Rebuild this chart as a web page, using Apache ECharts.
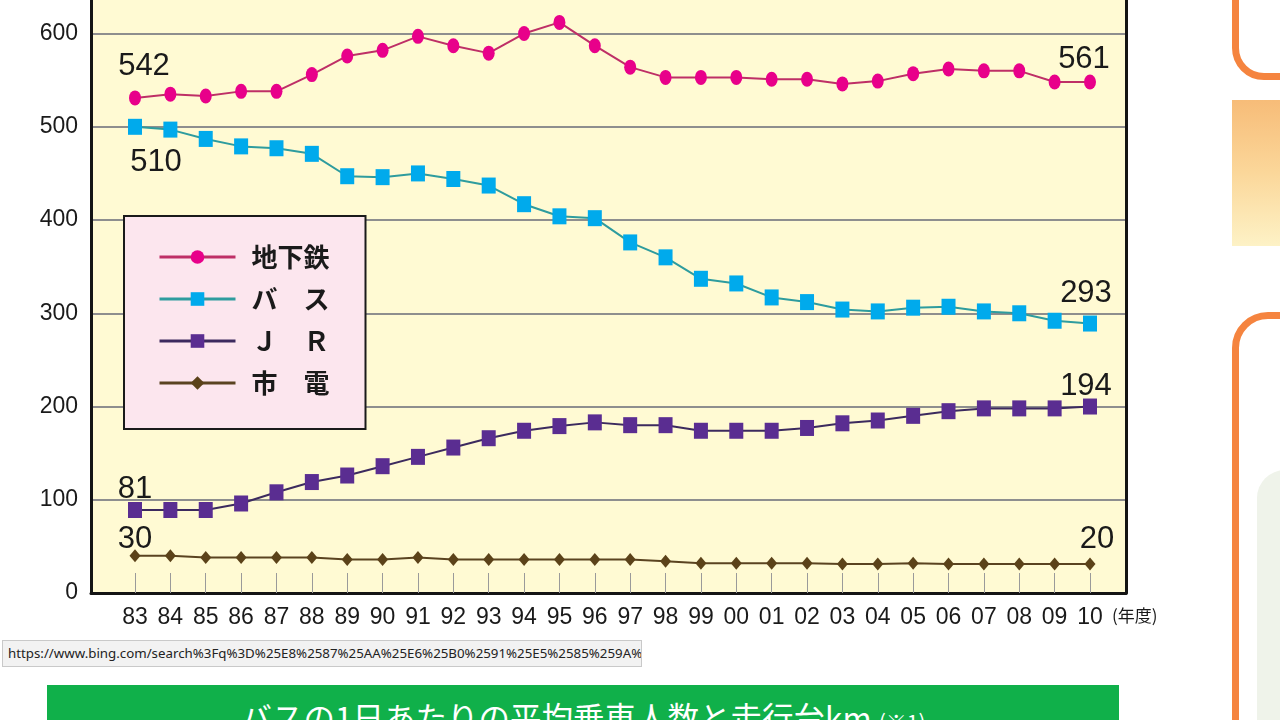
<!DOCTYPE html>
<html>
<head>
<meta charset="utf-8">
<script src="https://cdn.jsdelivr.net/npm/echarts@6/dist/echarts.min.js"></script>
<style>
  html, body { margin: 0; padding: 0; background: #ffffff; width: 1280px; height: 720px; overflow: hidden; }
  #chart { position: absolute; left: 0; top: 0; width: 1280px; height: 720px; }
  .urlbar { position: absolute; left: 2px; top: 640px; width: 640px; height: 27px; background: #f2f2f2; border: 1px solid #c9c9c9;
            font-family: 'Noto Sans', sans-serif; font-size: 13.3px; line-height: 25px; color: #222; padding-left: 5px; overflow: hidden; white-space: nowrap; box-sizing: border-box; }
  .banner { position: absolute; left: 47px; top: 685px; width: 1072px; height: 60px; background: #10B04A; color: #fff;
            font-family: 'Noto Sans CJK JP', sans-serif; font-size: 31.5px; text-align: center; line-height: 62px; }
  .banner small { font-size: 21px; }
  .orange1 { position: absolute; left: 1232px; top: -60px; width: 120px; height: 140px; border: 7px solid #F5843F; border-radius: 32px; box-sizing: border-box; }
  .peach { position: absolute; left: 1232px; top: 100px; width: 60px; height: 146px; background: linear-gradient(#F7BC78, #FBD79A 50%, #FDF2C6); }
  .orange2 { position: absolute; left: 1232px; top: 312px; width: 120px; height: 520px; border: 7px solid #F5843F; border-radius: 36px; box-sizing: border-box; }
  .green { position: absolute; left: 1257px; top: 470px; width: 60px; height: 300px; background: #EFF3EA; border-radius: 28px; }
</style>
</head>
<body>
<div id="chart"></div>
<div class="orange1"></div>
<div class="peach"></div>
<div class="orange2"></div>
<div class="green"></div>
<div class="urlbar">https://www.bing.com/search%3Fq%3D%25E8%2587%25AA%25E6%25B0%2591%25E5%2585%259A%</div>
<div class="banner">バスの1日あたりの平均乗車人数と走行台km <small>(※1)</small></div>
<script>
// ---- data ----
const years = ['83','84','85','86','87','88','89','90','91','92','93','94','95','96','97','98','99','00','01','02','03','04','05','06','07','08','09','10'];
const seriesNames = ['地下鉄', 'バ　ス', 'Ｊ　Ｒ', '市　電'];
const subway = [531, 535, 533, 538, 538, 556, 576, 582, 597, 587, 579, 600, 612, 587, 564, 553, 553, 553, 551, 551, 546, 549, 557, 562, 560, 560, 548, 548];
const bus    = [500, 497, 487, 479, 477, 471, 447, 446, 450, 444, 437, 417, 404, 402, 376, 360, 337, 332, 317, 312, 304, 302, 306, 307, 302, 300, 292, 289];
const jr     = [89, 89, 89, 96, 108, 119, 126, 136, 146, 156, 166, 174, 179, 183, 180, 180, 174, 174, 174, 177, 182, 185, 190, 195, 198, 198, 198, 200];
const tram   = [40, 40, 38, 38, 38, 38, 36, 36, 38, 36, 36, 36, 36, 36, 36, 34, 32, 32, 32, 32, 31, 31, 32, 31, 31, 31, 31, 31];
const firstNotes = ['542', '510', '81', '30'];
const lastNotes  = ['561', '293', '194', '20'];
const yTicks = [0, 100, 200, 300, 400, 500, 600];

// ---- styles ----
const styles = [
  { line: '#BE2F66', marker: '#E8008A', symbol: 'circle', size: [12, 15], firstOff: [9, -31], lastOff: [-6, -23] },
  { line: '#2E9C9E', marker: '#00AAEC', symbol: 'rect',   size: [14, 16], firstOff: [21, 36], lastOff: [-4, -30] },
  { line: '#3C2A5E', marker: '#5A2D91', symbol: 'rect',   size: [14, 16], firstOff: [0, -21], lastOff: [-4, -20] },
  { line: '#5A4320', marker: '#5B4219', symbol: 'diamond',size: [11, 13], firstOff: [0, -16], lastOff: [7, -25] }
];
const values = [subway, bus, jr, tram];
const numFont = "'Liberation Sans Narrow', 'Liberation Sans', Arial, sans-serif";

const idx = years.map((_, i) => i);

const series = values.map((vals, s) => {
  const st = styles[s];
  const last = vals.length - 1;
  return {
    name: seriesNames[s],
    type: 'line',
    symbol: st.symbol,
    symbolSize: st.size,
    z: 10 - s,
    lineStyle: { color: st.line, width: 2 },
    itemStyle: { color: st.marker },
    emphasis: { disabled: true },
    animation: false,
    data: vals.map((v, i) => {
      const item = { value: [i, v] };
      if (i === 0 || i === last) {
        item.label = {
          show: true,
          position: 'inside',
          offset: i === 0 ? st.firstOff : st.lastOff,
          formatter: i === 0 ? firstNotes[s] : lastNotes[s],
          fontFamily: "'Liberation Sans', Arial, sans-serif",
          fontSize: 31,
          color: '#1a1a1a'
        };
      }
      return item;
    })
  };
});

const chart = echarts.init(document.getElementById('chart'));
chart.setOption({
  backgroundColor: 'transparent',
  animation: false,
  grid: {
    left: 91, right: 154, top: 0, bottom: 127,
    show: true, backgroundColor: '#FFFAD3', borderWidth: 0
  },
  legend: {
    orient: 'vertical',
    left: 124, top: 216,
    padding: [28, 36, 33, 34],
    itemWidth: 76, itemHeight: 17, itemGap: 16,
    backgroundColor: '#FCE6EE',
    borderColor: '#1a1a1a', borderWidth: 2,
    lineStyle: { width: 3 },
    data: seriesNames,
    textStyle: {
      fontFamily: "'Noto Sans CJK JP', sans-serif",
      fontSize: 26, lineHeight: 26, color: '#1a1a1a', fontWeight: 'bold',
      padding: [0, 0, 0, 11]
    }
  },
  xAxis: {
    type: 'value',
    min: -1.244, max: 28.018,
    name: '(年度)',
    nameLocation: 'end',
    nameGap: -14,
    nameTextStyle: { fontFamily: "'Noto Sans CJK JP', sans-serif", fontSize: 17, color: '#1a1a1a', align: 'left', verticalAlign: 'top', padding: [14, 0, 0, 0] },
    axisLine: { show: true, onZero: false, lineStyle: { color: '#141414', width: 3 } },
    axisTick: { show: true, inside: true, length: 20, customValues: idx, lineStyle: { color: '#9a9a9a', width: 1 } },
    axisLabel: {
      customValues: idx,
      formatter: v => years[Math.round(v)],
      margin: 13,
      fontFamily: numFont, fontSize: 23, color: '#1a1a1a'
    },
    splitLine: { show: false }
  },
  yAxis: [{
    type: 'value',
    min: 0, max: 636, interval: 100,
    axisLine: { show: true, onZero: false, lineStyle: { color: '#141414', width: 3 } },
    axisTick: { show: false },
    axisLabel: {
      customValues: yTicks,
      margin: 13,
      fontFamily: numFont, fontSize: 23, color: '#1a1a1a'
    },
    splitLine: { show: true, showMaxLine: false, lineStyle: { color: '#8e8e8e', width: 2 } }
  }, {
    type: 'value',
    position: 'right',
    min: 0, max: 636, interval: 100,
    axisLine: { show: true, onZero: false, lineStyle: { color: '#141414', width: 3 } },
    axisTick: { show: false },
    axisLabel: { show: false },
    splitLine: { show: false }
  }],
  series: series
});
</script>
</body>
</html>
